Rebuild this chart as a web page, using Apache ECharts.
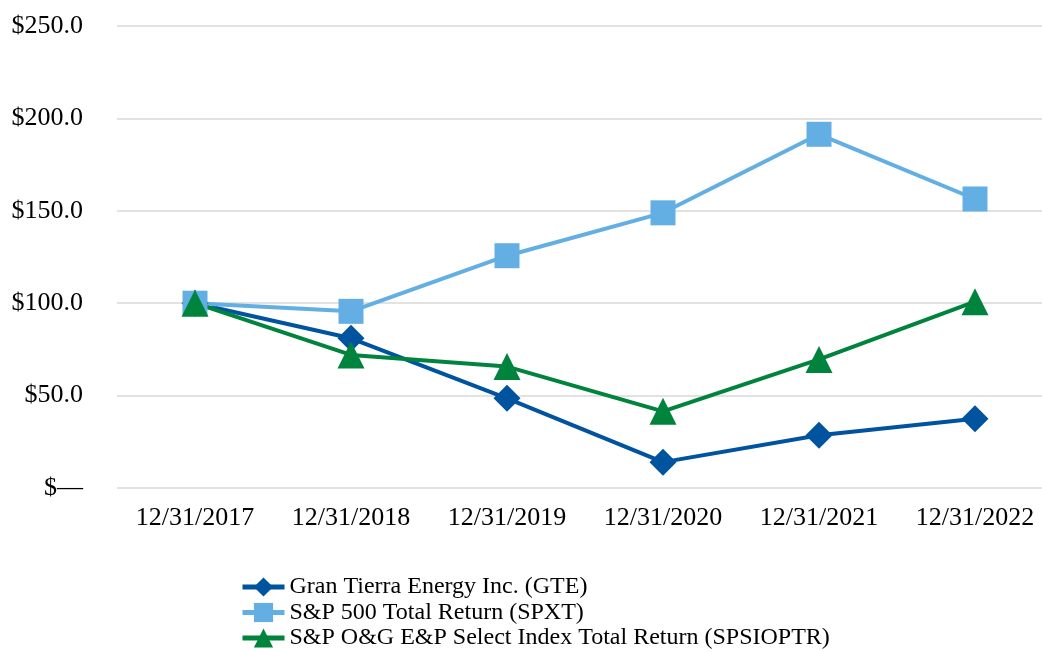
<!DOCTYPE html>
<html>
<head>
<meta charset="utf-8">
<script src="https://cdn.jsdelivr.net/npm/echarts@6/dist/echarts.min.js"></script>
<style>
  html, body { margin: 0; padding: 0; background: #fff; }
  #chart { width: 1042px; height: 652px; }
</style>
</head>
<body>
<div id="chart"></div>
<script>
// data
const categories = ['12/31/2017', '12/31/2018', '12/31/2019', '12/31/2020', '12/31/2021', '12/31/2022']
const gteValues = [100, 81, 48.5, 14, 28.5, 37.5]
const spxtValues = [100, 95.6, 125.7, 148.9, 191.4, 156.4]
const spsioptrValues = [100, 72, 65.7, 41.5, 69.6, 100.8]
const seriesNames = [
  'Gran Tierra Energy Inc. (GTE)',
  'S&P 500 Total Return (SPXT)',
  'S&P O&G E&P Select Index Total Return (SPSIOPTR)'
]

const chart = echarts.init(document.getElementById('chart'))
const font = 'Liberation Serif, Times New Roman, serif'

function lineSeries (name, data, color, symbol, size) {
  return {
    name: name,
    type: 'line',
    data: data,
    symbol: symbol,
    symbolSize: size,
    color: color,
    lineStyle: { width: 4, color: color },
    itemStyle: { color: color },
    emphasis: { disabled: true }
  }
}

chart.setOption({
  animation: false,
  textStyle: { fontFamily: font },
  grid: { left: 117, top: 26, right: -11, height: 462, containLabel: false, outerBoundsMode: 'none' },
  xAxis: {
    type: 'category',
    data: categories,
    boundaryGap: true,
    axisLine: { show: false },
    axisTick: { show: false },
    axisLabel: { color: '#000', fontSize: 26, fontFamily: font, margin: 17 }
  },
  yAxis: {
    type: 'value',
    min: 0,
    max: 250,
    interval: 50,
    axisLine: { show: false },
    axisTick: { show: false },
    splitLine: { lineStyle: { color: '#e2e2e2', width: 2 } },
    axisLabel: {
      color: '#000',
      fontSize: 26,
      fontFamily: font,
      margin: 34,
      formatter: v => v === 0 ? '$\u2014' : '$' + v.toFixed(1)
    }
  },
  legend: {
    orient: 'vertical',
    left: 240,
    top: 575,
    padding: 0,
    itemWidth: 42,
    itemHeight: 24,
    itemGap: 1.5,
    lineStyle: { width: 5 },
    textStyle: { color: '#000', fontSize: 24, lineHeight: 24, fontFamily: font },
    data: seriesNames
  },
  series: [
    lineSeries(seriesNames[0], gteValues, '#00539f', 'diamond', 27),
    lineSeries(seriesNames[1], spxtValues, '#63afe3', 'rect', 25),
    lineSeries(seriesNames[2], spsioptrValues, '#00843d', 'triangle', 27)
  ]
})
</script>
</body>
</html>
